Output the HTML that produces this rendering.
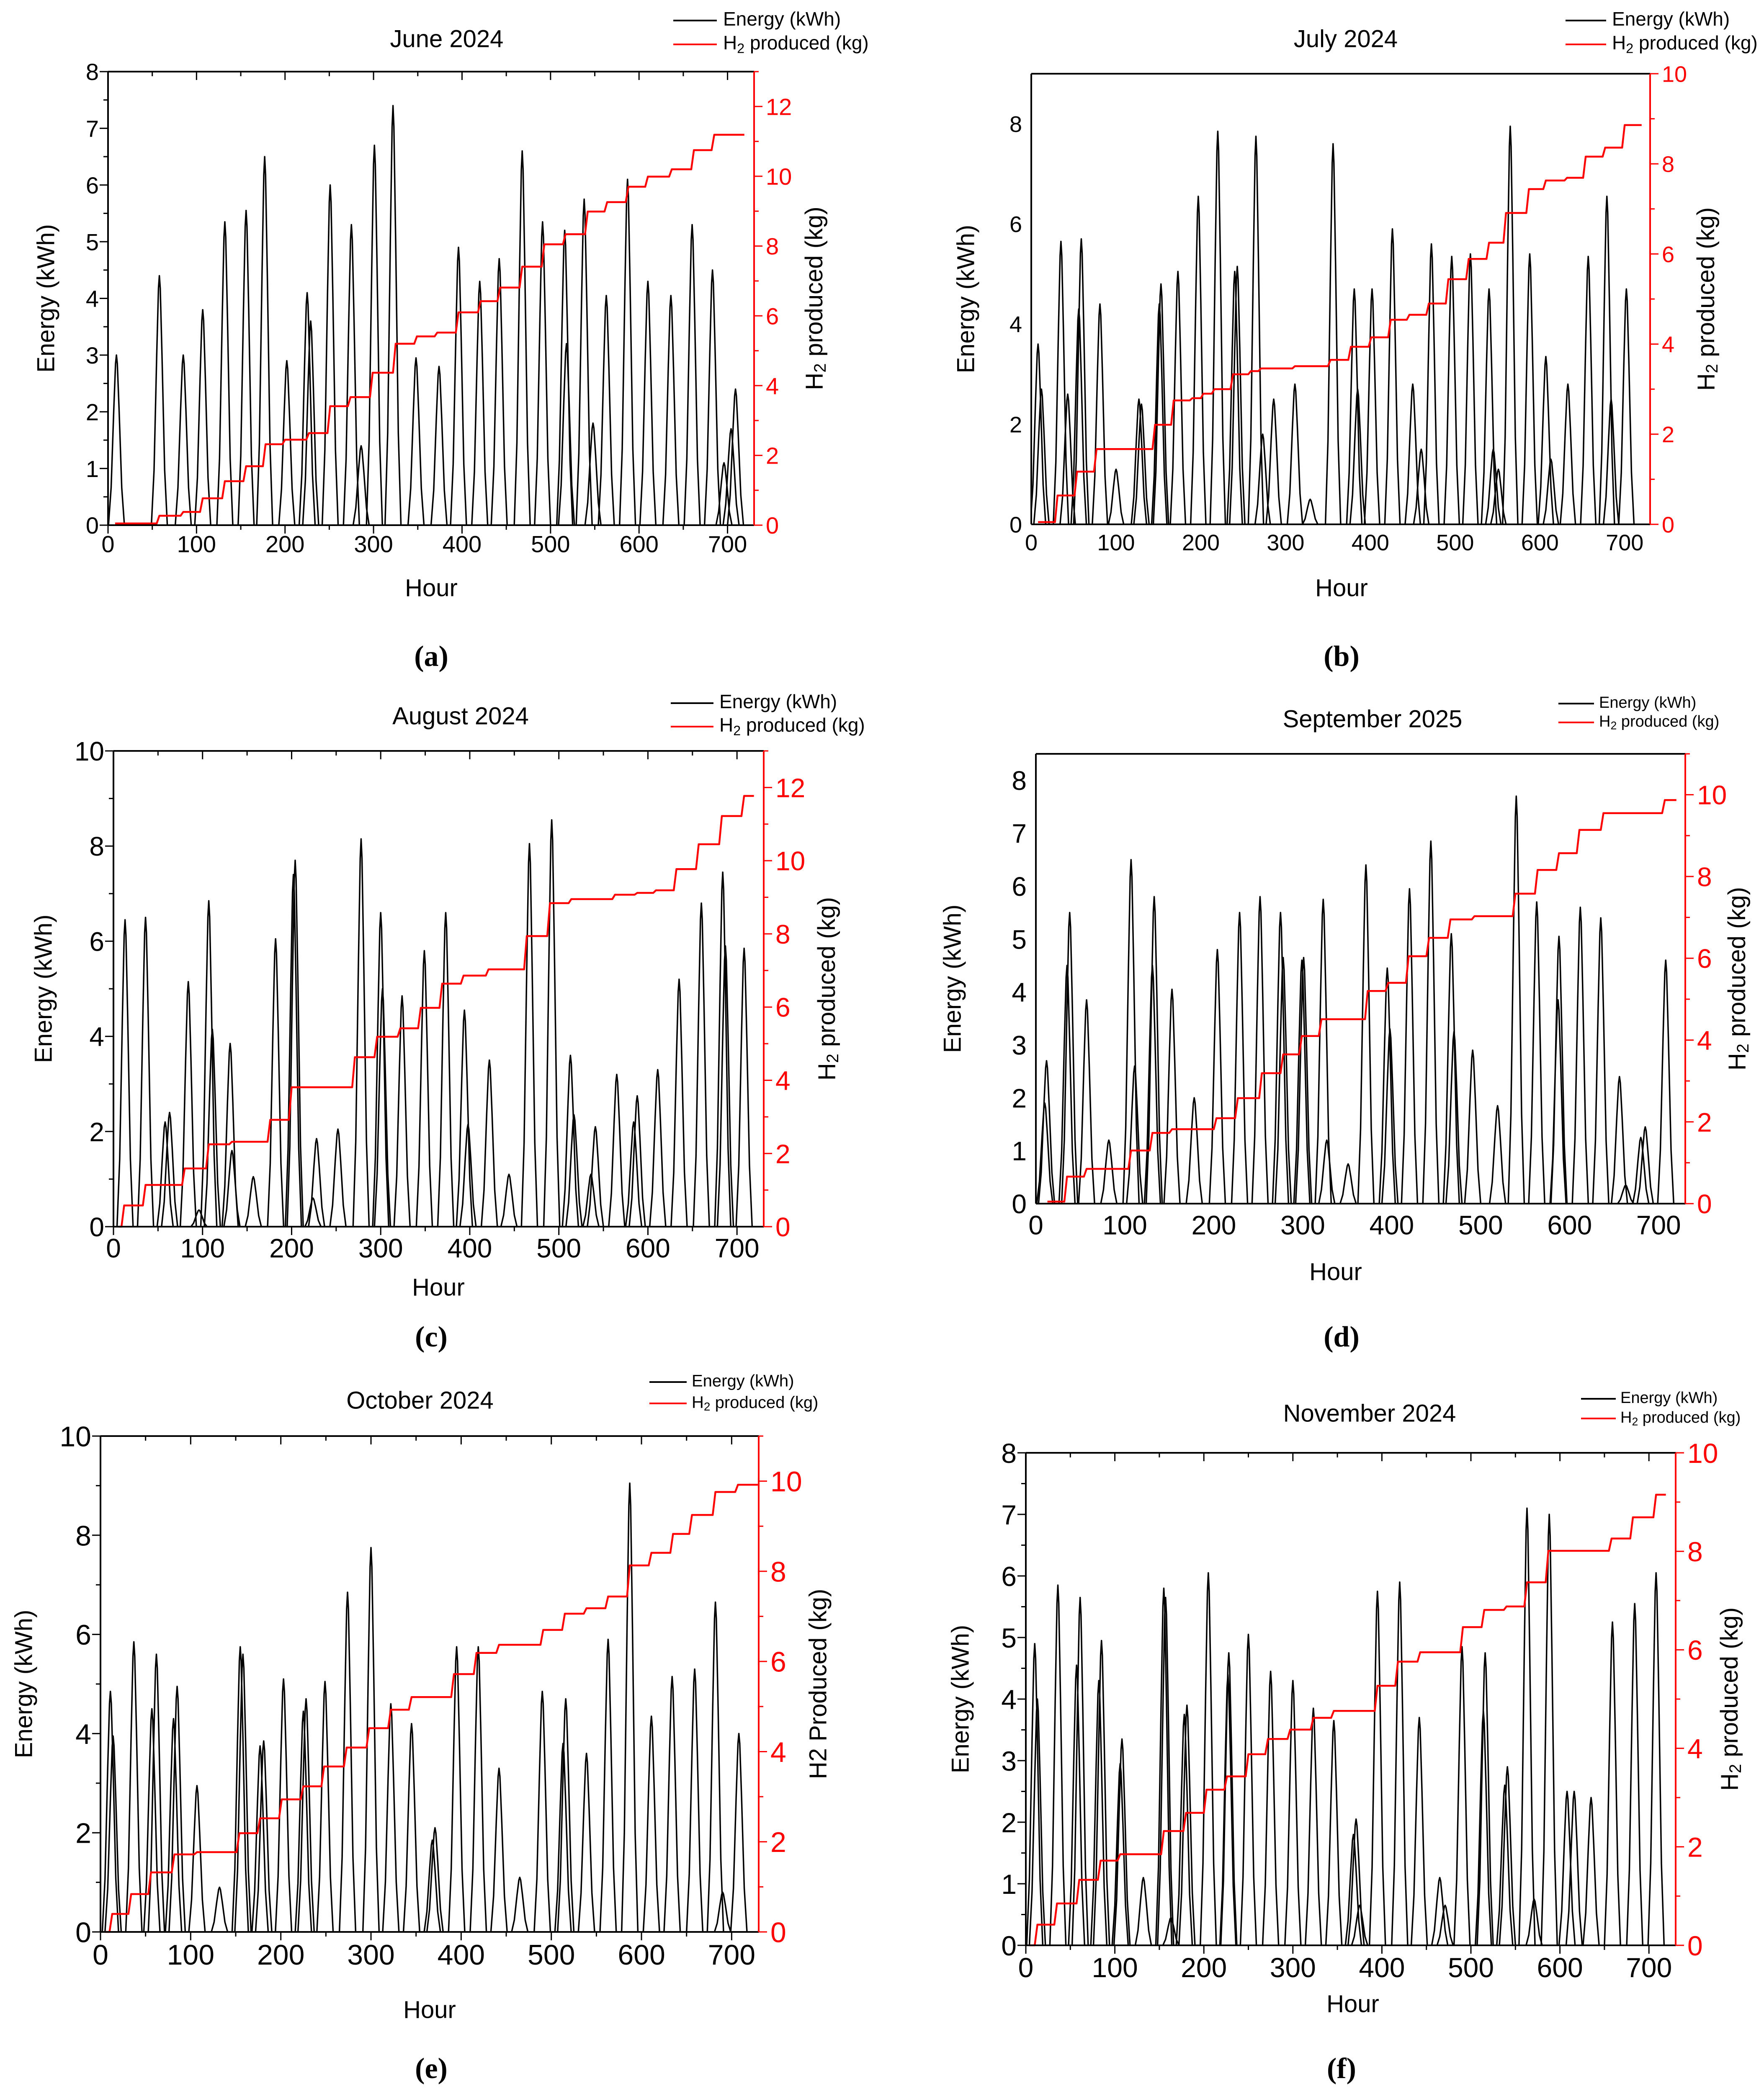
<!DOCTYPE html>
<html><head><meta charset="utf-8"><style>
html,body{margin:0;padding:0;background:#fff;width:4213px;height:5004px;overflow:hidden;}
svg{display:block;}
text{font-family:"Liberation Sans Narrow","Liberation Sans",sans-serif;}
.sub{font-family:"Liberation Serif",serif;font-weight:bold;}
</style></head>
<body>
<svg id="fig" xmlns="http://www.w3.org/2000/svg" width="4213" height="5000" viewBox="0 0 4213 5000"></svg>
<script>
// ---- June 2024 ----
const juneEnergyHours=[9.5,58,85,107,132,156,177,202,225,229,251,275,286,301,322,348,374,396,420,442,468,491,516,518,538,548,563,587,610,636,660,683,696,704,709];
const juneEnergyValues=[3.0,4.4,3.0,3.8,5.35,5.55,6.5,2.9,4.1,3.6,6.0,5.3,1.4,6.7,7.4,2.95,2.8,4.9,4.3,4.7,6.6,5.35,5.2,3.2,5.75,1.8,4.05,6.1,4.3,4.05,5.3,4.5,1.1,1.7,2.4];
const juneH2Hours=[8,58,85,107,132,156,178,200,227,251,274,299,325,349,372,396,421,443,468,493,517,542,564,588,610,637,662,685,719];
const juneH2Values=[0.05,0.27,0.38,0.77,1.26,1.69,2.32,2.45,2.64,3.41,3.67,4.37,5.2,5.41,5.52,6.1,6.42,6.81,7.41,8.05,8.34,8.99,9.26,9.7,9.99,10.2,10.75,11.19,11.19];
// ---- July 2024 ----
const julyEnergyHours=[8,12,35,43,56,59,81,100,127,130,151,153,173,197,220,240,243,265,273,286,311,329,356,381,385,402,426,450,460,472,496,518,540,545,551,565,588,607,613,633,657,679,684,702];
const julyEnergyValues=[3.6,2.7,5.65,2.6,4.3,5.7,4.4,1.1,2.5,2.4,4.4,4.8,5.05,6.55,7.85,5.05,5.15,7.75,1.8,2.5,2.8,0.5,7.6,4.7,2.7,4.7,5.9,2.8,1.5,5.6,5.35,5.4,4.7,1.5,1.1,7.95,5.4,3.35,1.3,2.8,5.35,6.55,2.5,4.7];
const julyH2Hours=[8,31,54,77,146,168,190,203,216,238,259,271,311,353,377,401,424,446,469,492,516,540,560,587,607,632,654,677,700,720];
const julyH2Values=[0.05,0.64,1.17,1.67,2.21,2.75,2.8,2.9,3.0,3.33,3.4,3.46,3.51,3.65,3.94,4.15,4.54,4.65,4.9,5.44,5.89,6.25,6.91,7.44,7.63,7.69,8.16,8.36,8.86,8.86];
// ---- August 2024 ----
const augEnergyHours=[13,36,58,63,84,96,107,111,131,133,157,182,202,204,224,228,252,278,300,302,324,349,373,394,398,422,444,467,492,513,517,536,541,565,584,588,611,635,660,684,687,708];
const augEnergyValues=[6.45,6.5,2.2,2.4,5.15,0.35,6.85,4.15,3.85,1.6,1.05,6.05,7.4,7.7,0.6,1.85,2.05,8.15,6.6,5.0,4.85,5.8,6.6,4.55,2.15,3.5,1.1,8.05,8.55,3.6,2.35,1.1,2.1,3.2,2.2,2.75,3.3,5.2,6.8,7.45,5.9,5.85];
const augH2Hours=[6,12,36,80,107,133,176,200,271,296,322,345,369,393,421,464,490,514,563,588,609,632,657,683,708,719];
const augH2Values=[0,0.58,1.14,1.59,2.25,2.32,2.92,3.81,4.63,5.19,5.42,5.98,6.64,6.86,7.03,7.94,8.84,8.95,9.07,9.12,9.19,9.77,10.45,11.22,11.77,11.77];
// ---- September 2025 ----
const sepEnergyHours=[10,12,35,38,57,82,107,111,131,133,153,178,204,229,252,275,278,299,301,323,327,351,371,395,398,420,444,467,470,491,519,540,563,587,588,612,635,656,663,680,685,708];
const sepEnergyValues=[1.9,2.7,4.5,5.5,3.85,1.2,6.5,2.6,4.5,5.8,4.05,2.0,4.8,5.5,5.8,5.5,4.65,4.6,4.65,5.75,1.2,0.75,6.4,4.45,3.3,5.95,6.85,5.1,3.25,2.9,1.85,7.7,5.7,3.85,5.05,5.6,5.4,2.4,0.35,1.25,1.45,4.6];
const sepH2Hours=[13,35,57,107,131,153,203,227,254,278,299,321,373,396,419,442,466,493,539,564,588,611,638,707,720];
const sepH2Values=[0.05,0.66,0.85,1.3,1.73,1.82,2.09,2.58,3.19,3.65,4.1,4.51,5.2,5.4,6.05,6.5,6.95,7.03,7.58,8.16,8.57,9.14,9.55,9.87,9.87];
// ---- October 2024 ----
const octEnergyHours=[11,14,37,57,62,81,85,107,132,155,158,177,181,203,225,228,249,274,300,322,345,368,371,395,419,442,465,490,513,516,539,563,587,611,634,659,682,690,708];
const octEnergyValues=[4.85,3.95,5.85,4.5,5.6,4.3,4.95,2.95,0.9,5.75,5.6,3.75,3.85,5.1,4.45,4.7,5.05,6.85,7.75,4.6,4.2,1.85,2.1,5.75,5.75,3.3,1.1,4.85,3.8,4.7,3.6,5.9,9.05,4.35,5.15,5.3,6.65,0.8,4.0];
const octH2Hours=[5,13,34,56,82,107,154,177,201,225,248,273,298,322,345,392,417,442,491,515,539,563,587,611,635,656,682,707,729];
const octH2Values=[0,0.4,0.84,1.32,1.72,1.77,2.19,2.52,2.94,3.23,3.67,4.09,4.52,4.93,5.21,5.72,6.19,6.37,6.7,7.06,7.18,7.44,8.13,8.41,8.83,9.25,9.76,9.92,9.92];
// ---- November 2024 ----
const novEnergyHours=[10,13,36,57,61,82,85,106,108,132,155,157,163,178,181,205,227,228,250,275,300,323,346,368,371,375,395,420,442,465,471,490,514,516,538,541,563,571,588,608,616,635,659,684,708];
const novEnergyValues=[4.9,4.0,5.85,4.55,5.65,4.3,4.95,2.95,3.35,1.1,5.8,5.65,0.45,3.75,3.9,6.05,4.4,4.75,5.05,4.45,4.3,3.85,3.65,1.8,2.05,0.65,5.75,5.9,3.7,1.1,0.65,4.85,3.8,4.75,2.6,2.9,7.1,0.75,7.0,2.5,2.5,2.4,5.25,5.55,6.05];
const novH2Hours=[4,13,35,60,84,106,155,180,203,226,250,272,297,323,346,395,418,443,491,515,540,563,587,658,682,708,719];
const novH2Values=[0,0.42,0.85,1.33,1.72,1.85,2.32,2.69,3.16,3.43,3.88,4.19,4.38,4.62,4.76,5.27,5.76,5.95,6.46,6.81,6.88,7.37,8.01,8.26,8.69,9.15,9.15];

const NS="http://www.w3.org/2000/svg";
const svg=document.getElementById('fig');
function mk(tag,attrs,parent){const e=document.createElementNS(NS,tag);for(const k in attrs)e.setAttribute(k,attrs[k]);(parent||svg).appendChild(e);return e;}

const panels=[
 {key:'june',title:'June 2024',L:258,R:1801,T:171,B:1254,y1:8,y1s:1,y2:13,y2s:2,ticks:true,fs:56,
  eh:juneEnergyHours,ev:juneEnergyValues,hh:juneH2Hours,hv:juneH2Values,
  tx:1067,ty:97,yl:114,yr:1949,hx:1030,hy:1408,sx:1030,sy:1590,sub:'(a)',
  lg:{x1:1608,x2:1712,y1:49,y2:106,tx:1727,fs:46},h2lab:'H2sub'},
 {key:'july',title:'July 2024',L:2463,R:3941,T:176,B:1252,y1:9,y1s:2,y2:10,y2s:2,ticks:false,fs:54,
  eh:julyEnergyHours,ev:julyEnergyValues,hh:julyH2Hours,hv:julyH2Values,
  tx:3214,ty:97,yl:2311,yr:4079,hx:3204,hy:1408,sx:3204,sy:1590,sub:'(b)',
  lg:{x1:3739,x2:3836,y1:49,y2:106,tx:3850,fs:46},h2lab:'H2sub'},
 {key:'aug',title:'August 2024',L:271,R:1824,T:1793,B:2929,y1:10,y1s:2,y2:13,y2s:2,ticks:true,fs:64,
  eh:augEnergyHours,ev:augEnergyValues,hh:augH2Hours,hv:augH2Values,
  tx:1100,ty:1714,yl:108,yr:1979,hx:1047,hy:3078,sx:1030,sy:3215,sub:'(c)',
  lg:{x1:1602,x2:1704,y1:1679,y2:1735,tx:1718,fs:46},h2lab:'H2sub'},
 {key:'sep',title:'September 2025',L:2474,R:4025,T:1800,B:2874,y1:8.5,y1s:1,y2:11,y2s:2,ticks:false,fs:64,
  eh:sepEnergyHours,ev:sepEnergyValues,hh:sepH2Hours,hv:sepH2Values,
  tx:3278,ty:1721,yl:2279,yr:4153,hx:3190,hy:3041,sx:3204,sy:3215,sub:'(d)',
  lg:{x1:3722,x2:3807,y1:1680,y2:1725,tx:3819,fs:38},h2lab:'H2sub'},
 {key:'oct',title:'October 2024',L:240,R:1812,T:3429,B:4613,y1:10,y1s:2,y2:11,y2s:2,ticks:true,fs:68,
  eh:octEnergyHours,ev:octEnergyValues,hh:octH2Hours,hv:octH2Values,
  tx:1003,ty:3348,yl:61,yr:1958,hx:1026,hy:4803,sx:1030,sy:4962,sub:'(e)',
  lg:{x1:1551,x2:1640,y1:3300,y2:3351,tx:1652,fs:40},h2lab:'H2 Produced (kg)'},
 {key:'nov',title:'November 2024',L:2450,R:4002,T:3469,B:4645,y1:8,y1s:1,y2:10,y2s:2,ticks:true,fs:66,
  eh:novEnergyHours,ev:novEnergyValues,hh:novH2Hours,hv:novH2Values,
  tx:3271,ty:3379,yl:2298,yr:4135,hx:3231,hy:4789,sx:3204,sy:4962,sub:'(f)',
  lg:{x1:3776,x2:3859,y1:3340,y2:3387,tx:3870,fs:38},h2lab:'H2sub'}
];

panels.forEach(p=>{
  const g=mk('g',{});
  
  
  const X=h=>p.L+(h/730)*(p.R-p.L);
  const Y1=v=>p.B-(v/p.y1)*(p.B-p.T);
  const Y2=v=>p.B-(v/p.y2)*(p.B-p.T);
  const cid='clip-'+p.key;
  const cp=mk('clipPath',{id:cid},g);mk('rect',{x:p.L,y:p.T-2,width:p.R-p.L,height:p.B-p.T+2},cp);

  // energy series
  let d='';
  p.eh.forEach((h,i)=>{const v=p.ev[i];
    d+=`M${X(h-9)},${Y1(0)}L${X(h-6)},${Y1(0.22*v)}L${X(h-3)},${Y1(0.68*v)}L${X(h-1)},${Y1(0.95*v)}L${X(h)},${Y1(v)}L${X(h+1)},${Y1(0.95*v)}L${X(h+3)},${Y1(0.68*v)}L${X(h+6)},${Y1(0.22*v)}L${X(h+9)},${Y1(0)}`;});
  const ep=mk('path',{d:d,fill:'none',stroke:'#000','stroke-width':3.5,'stroke-linejoin':'round','clip-path':`url(#${cid})`},g);
  
  

  // H2 step series
  let d2=`M${X(p.hh[0])},${Y2(p.hv[0])}`;
  for(let i=1;i<p.hh.length;i++){d2+=`L${X(p.hh[i]-3)},${Y2(p.hv[i-1])}L${X(p.hh[i])},${Y2(p.hv[i])}`;}
  const hp=mk('path',{d:d2,fill:'none',stroke:'#ff0000','stroke-width':4.5,'stroke-linejoin':'round'},g);
  
  

  // axes box
  mk('line',{x1:p.L,y1:p.T,x2:p.R,y2:p.T,stroke:'#000','stroke-width':4},g);
  mk('line',{x1:p.L,y1:p.B,x2:p.R,y2:p.B,stroke:'#000','stroke-width':4},g);
  const la=mk('line',{x1:p.L,y1:p.T,x2:p.L,y2:p.B,stroke:'#000','stroke-width':4},g);
  
  
  const ra=mk('line',{x1:p.R,y1:p.T,x2:p.R,y2:p.B,stroke:'#ff0000','stroke-width':4},g);
  
  

  // x ticks
  for(let h=0;h<=700;h+=50){
    const major=h%100===0, x=X(h);
    if(p.ticks){
      mk('line',{x1:x,y1:p.B,x2:x,y2:p.B+(major?20:11),stroke:'#000','stroke-width':3},g);
      mk('line',{x1:x,y1:p.T,x2:x,y2:p.T+(major?20:11),stroke:'#000','stroke-width':3},g);
    }
    if(major){const t=mk('text',{x:x,y:p.B+p.fs*1.15,'font-size':p.fs,'text-anchor':'middle'},g);t.textContent=h;
      
      }
  }
  // left ticks
  for(let v=0;v<=p.y1+1e-6;v+=p.y1s/2){
    const major=Math.abs(v/p.y1s-Math.round(v/p.y1s))<1e-6, y=Y1(v);
    if(p.ticks) mk('line',{x1:p.L,y1:y,x2:p.L-(major?20:11),y2:y,stroke:'#000','stroke-width':3},g);
    if(major){const t=mk('text',{x:p.L-22,y:y+p.fs*0.36,'font-size':p.fs,'text-anchor':'end'},g);t.textContent=Math.round(v);
      
      }
  }
  // right ticks
  for(let v=0;v<=p.y2+1e-6;v+=p.y2s/2){
    const major=Math.abs(v/p.y2s-Math.round(v/p.y2s))<1e-6, y=Y2(v);
    mk('line',{x1:p.R,y1:y,x2:p.R+(major?20:11),y2:y,stroke:'#ff0000','stroke-width':3},g);
    if(major){const t=mk('text',{x:p.R+28,y:y+p.fs*0.36,'font-size':p.fs,fill:'#ff0000'},g);t.textContent=Math.round(v);
      
      }
  }
  const mid=(p.T+p.B)/2;
  const yl=mk('text',{x:p.yl,y:mid,'font-size':58,'text-anchor':'middle',transform:`rotate(-90 ${p.yl} ${mid})`,'dominant-baseline':'middle'},g);
  yl.textContent='Energy (kWh)';
  
  
  const yr=mk('text',{x:p.yr,y:mid,'font-size':58,'text-anchor':'middle',transform:`rotate(-90 ${p.yr} ${mid})`,'dominant-baseline':'middle'},g);
  if(p.h2lab==='H2sub'){yr.innerHTML='H<tspan font-size="40" dy="12">2</tspan><tspan dy="-12"> produced (kg)</tspan>';}
  else yr.textContent=p.h2lab;
  
  
  const xl=mk('text',{x:p.hx,y:p.hy,'font-size':58,'text-anchor':'middle','dominant-baseline':'middle'},g);
  xl.textContent='Hour';
  
  
  const tt=mk('text',{x:p.tx,y:p.ty,'font-size':58,'text-anchor':'middle','dominant-baseline':'middle'},g);
  tt.textContent=p.title;
  
  
  const sb=mk('text',{x:p.sx,y:p.sy,'font-size':70,'text-anchor':'middle',class:'sub'},g);
  sb.textContent=p.sub;
  
  
  // legend
  const lg=p.lg;
  const l1=mk('line',{x1:lg.x1,y1:lg.y1,x2:lg.x2,y2:lg.y1,stroke:'#000','stroke-width':4},g);
  
  
  const t1=mk('text',{x:lg.tx,y:lg.y1,'font-size':lg.fs,'dominant-baseline':'middle'},g);
  t1.textContent='Energy (kWh)';
  
  
  const l2=mk('line',{x1:lg.x1,y1:lg.y2,x2:lg.x2,y2:lg.y2,stroke:'#ff0000','stroke-width':4},g);
  
  
  const t2=mk('text',{x:lg.tx,y:lg.y2,'font-size':lg.fs,'dominant-baseline':'middle'},g);
  t2.innerHTML=`H<tspan font-size="${lg.fs*0.7}" dy="${lg.fs*0.25}">2</tspan><tspan dy="${-lg.fs*0.25}"> produced (kg)</tspan>`;
  
  
});
</script>
</body></html>
